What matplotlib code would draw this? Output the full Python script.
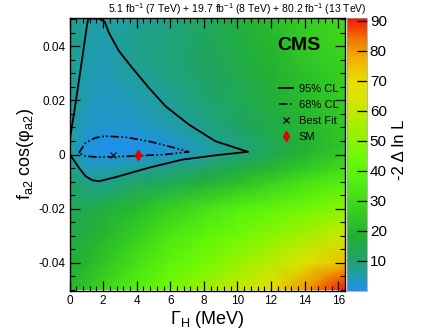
import matplotlib
matplotlib.use("Agg")
import matplotlib.pyplot as plt
from matplotlib.colors import LinearSegmentedColormap
from matplotlib.lines import Line2D
from matplotlib.ticker import MultipleLocator
import numpy as np

plt.rcParams['font.family'] = ['Liberation Sans', 'DejaVu Sans']
plt.rcParams['mathtext.fontset'] = 'custom'
plt.rcParams['mathtext.rm'] = 'Liberation Sans'
plt.rcParams['mathtext.it'] = 'Liberation Sans:italic'

# grid of -2 delta lnL values
gamma_h = [0, 1, 2, 4, 6, 8, 10, 12, 14, 16.4]
fa2 = [-0.05, -0.04, -0.03, -0.02, -0.01, -0.005, 0.0, 0.003, 0.01, 0.02, 0.03, 0.04, 0.05]
nll = [
    [20, 24, 29, 38, 46, 53, 60, 68, 80, 91],
    [17, 20, 24, 32, 40, 46, 52, 58, 66, 75],
    [15, 17, 20, 27, 34, 40, 45, 50, 55, 62],
    [13, 14, 16, 21, 27, 32, 37, 41, 45, 50],
    [11, 8, 7, 10, 13, 17, 22, 27, 32, 37],
    [8, 4.5, 4.5, 6, 8, 11, 15, 20, 25, 30],
    [6, 2, 1.5, 1.8, 2.6, 5.5, 9, 14, 20, 26],
    [6, 1.5, 0.5, 0.8, 2.1, 5, 8.5, 13, 18.5, 24],
    [6.5, 3.5, 2.5, 3, 4.8, 7.5, 11, 15, 20, 25],
    [7, 4.5, 3.5, 4.5, 6.8, 9.5, 13, 17, 21, 26],
    [7.5, 5, 4, 6.5, 8.5, 11, 14.5, 18.5, 23, 27],
    [8, 5.5, 4.5, 7.5, 9, 12, 16, 20, 25, 29],
    [8, 5.8, 5.8, 6.5, 8.5, 12, 17, 22, 26, 30],
]

# 95% CL contour
cl95_x = [0.0, 0.0, 0.26, 0.56, 0.85, 0.99, 1.11, 1.75, 2.10, 2.34, 2.94, 3.73, 4.72, 5.71,
          7.10, 8.69, 10.63, 8.69, 6.71, 4.72, 2.74, 1.75, 1.35, 0.95, 0.56, 0.16, 0.0]
cl95_y = [0.0, 0.0049, 0.0148, 0.0272, 0.0395, 0.0457, 0.0503, 0.0503, 0.0491, 0.0451, 0.0383,
          0.0321, 0.0247, 0.0179, 0.0111, 0.0049, 0.0010, -0.0003, -0.0019, -0.0049, -0.0084,
          -0.0099, -0.0095, -0.0080, -0.0049, -0.0012, 0.0]
# 68% CL contour
cl68_x = [0.56, 0.95, 1.55, 2.14, 3.33, 4.72, 6.11, 7.10, 5.71, 3.73, 1.75, 0.95, 0.56]
cl68_y = [0.0006, 0.0043, 0.0062, 0.0068, 0.0064, 0.0049, 0.0027, 0.0010, 0.0, -0.0006,
          -0.0010, -0.0006, 0.0006]

best_fit = (2.6, 0.0)
sm = (4.1, 0.0)

cmap = LinearSegmentedColormap.from_list('cms', [
    (0.0, (0.12, 0.56, 0.95)),
    (0.06, (0.12, 0.62, 0.64)),
    (0.11, (0.12, 0.64, 0.42)),
    (0.2, (0.13, 0.69, 0.2)),
    (0.3, (0.22, 0.82, 0.12)),
    (0.4, (0.32, 0.94, 0.06)),
    (0.5, (0.44, 0.98, 0.02)),
    (0.6, (0.64, 0.94, 0.0)),
    (0.7, (0.84, 0.9, 0.0)),
    (0.77, (0.91, 0.87, 0.0)),
    (0.85, (0.95, 0.7, 0.0)),
    (0.92, (0.95, 0.48, 0.0)),
    (1.0, (0.95, 0.08, 0.05)),
])

fig = plt.figure(figsize=(4.32, 3.35), dpi=100)
ax = fig.add_axes([69.5/432, 1-291/335, 275.5/432, 273/335])
cax = fig.add_axes([347/432, 1-291/335, 20/432, 273/335])

mesh = ax.pcolormesh(gamma_h, fa2, np.array(nll), cmap=cmap, vmin=0, vmax=91, shading='gouraud')
ax.plot(cl95_x, cl95_y, color='black', lw=1.3)
ax.plot(cl68_x, cl68_y, color='black', lw=1.2, linestyle=(0, (5, 1.5, 1, 1.5, 1, 1.5)))
ax.plot(*best_fit, marker='x', color='#102040', ms=4.5, mew=1.0, ls='none')
ax.plot(*sm, marker='d', color='#e00000', ms=5, ls='none')

ax.set_xlim(0, 16.4)
ax.set_ylim(-0.0505, 0.0505)
ax.xaxis.set_major_locator(MultipleLocator(2))
ax.xaxis.set_minor_locator(MultipleLocator(0.4))
ax.yaxis.set_major_locator(MultipleLocator(0.02))
ax.yaxis.set_minor_locator(MultipleLocator(0.005))
ax.tick_params(which='both', direction='in', top=True, right=True, labelsize=8.5, pad=3)
ax.tick_params(which='major', length=7, width=0.9)
ax.tick_params(which='minor', length=3.5, width=0.8)
ax.set_xticklabels([str(int(v)) for v in ax.get_xticks()])
ax.set_yticklabels(['%g' % v if abs(v) > 1e-9 else '0' for v in ax.get_yticks()])
for s in ax.spines.values():
    s.set_linewidth(1.0)

ax.set_xlabel(r'Γ$_{\mathrm{H}}$ (MeV)', fontsize=13, labelpad=1)
ax.set_ylabel(r'f$_{\mathrm{a2}}$ cos(φ$_{\mathrm{a2}}$)', fontsize=13, labelpad=2)

ax.text(0.91, 0.9, 'CMS', transform=ax.transAxes, fontsize=14, fontweight='bold',
        ha='right', va='center')

handles = [
    Line2D([], [], color='black', lw=1.3),
    Line2D([], [], color='black', lw=1.2, linestyle=(0, (5, 1.5, 1, 1.5, 1, 1.5))),
    Line2D([], [], color='black', marker='x', ls='none', ms=4.5, mew=0.9),
    Line2D([], [], color='#e00000', marker='d', ls='none', ms=5),
]
ax.legend(handles, ['95% CL', '68% CL', 'Best Fit', 'SM'], loc='upper left',
          bbox_to_anchor=(0.74, 0.78), frameon=False, fontsize=8, handlelength=1.3,
          handletextpad=0.5, labelspacing=0.55, borderpad=0)

cb = fig.colorbar(mesh, cax=cax)
cb.set_ticks([10, 20, 30, 40, 50, 60, 70, 80, 90])
cb.ax.tick_params(direction='in', length=7, width=0.9, labelsize=11, pad=2)
cb.outline.set_linewidth(0.5)
cb.outline.set_edgecolor('#999999')
fig.text(400/432, 1-150/335, '-2 Δ ln L', rotation=90, fontsize=12, ha='center', va='center')

fig.text(367/432, 1-9/335,
         r'5.1 fb$^{-1}$ (7 TeV) + 19.7 fb$^{-1}$ (8 TeV) + 80.2 fb$^{-1}$ (13 TeV)',
         fontsize=7.5, ha='right', va='center')

fig.savefig('out.png', dpi=100)
